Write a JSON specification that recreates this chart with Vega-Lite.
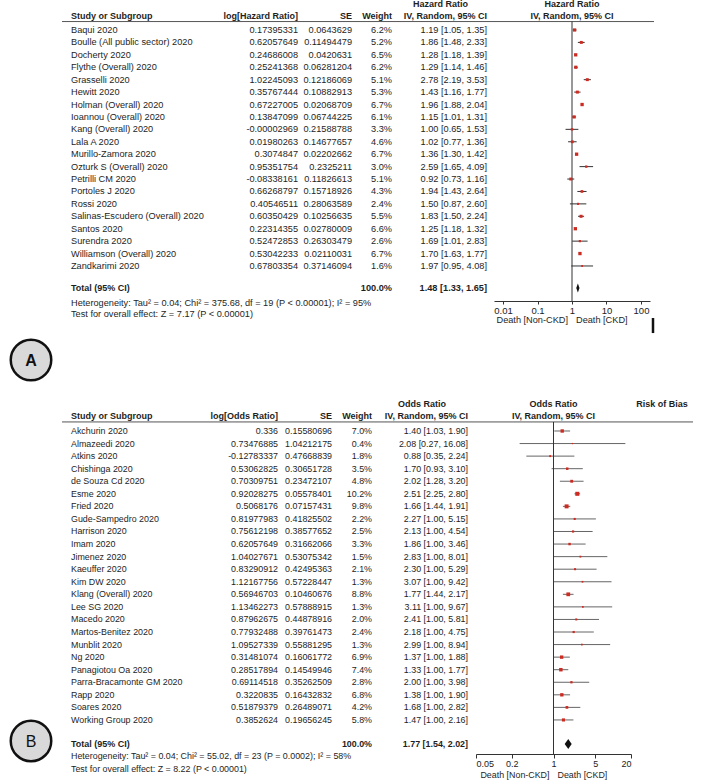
{
  "$schema": "https://vega.github.io/schema/vega-lite/v6.json",
  "padding": 0,
  "spacing": 10,
  "config": {
    "view": {"stroke": null},
    "text": {"font": "Liberation Sans", "color": "#1e1e1e"},
    "axis": {"labelFont": "Liberation Sans"}
  },
  "datasets": {
    "a": [
      {"study": "Baqui 2020", "logv": "0.17395331", "se": "0.0643629", "wt": "6.2%", "ci": "1.19 [1.05, 1.35]", "w": 6.2, "est": 1.19, "lo": 1.05, "hi": 1.35, "i": 0},
      {"study": "Boulle (All public sector) 2020", "logv": "0.62057649", "se": "0.11494479", "wt": "5.2%", "ci": "1.86 [1.48, 2.33]", "w": 5.2, "est": 1.86, "lo": 1.48, "hi": 2.33, "i": 1},
      {"study": "Docherty 2020", "logv": "0.24686008", "se": "0.0420631", "wt": "6.5%", "ci": "1.28 [1.18, 1.39]", "w": 6.5, "est": 1.28, "lo": 1.18, "hi": 1.39, "i": 2},
      {"study": "Flythe (Overall) 2020", "logv": "0.25241368", "se": "0.06281204", "wt": "6.2%", "ci": "1.29 [1.14, 1.46]", "w": 6.2, "est": 1.29, "lo": 1.14, "hi": 1.46, "i": 3},
      {"study": "Grasselli 2020", "logv": "1.02245093", "se": "0.12186069", "wt": "5.1%", "ci": "2.78 [2.19, 3.53]", "w": 5.1, "est": 2.78, "lo": 2.19, "hi": 3.53, "i": 4},
      {"study": "Hewitt 2020", "logv": "0.35767444", "se": "0.10882913", "wt": "5.3%", "ci": "1.43 [1.16, 1.77]", "w": 5.3, "est": 1.43, "lo": 1.16, "hi": 1.77, "i": 5},
      {"study": "Holman (Overall) 2020", "logv": "0.67227005", "se": "0.02068709", "wt": "6.7%", "ci": "1.96 [1.88, 2.04]", "w": 6.7, "est": 1.96, "lo": 1.88, "hi": 2.04, "i": 6},
      {"study": "Ioannou (Overall) 2020", "logv": "0.13847099", "se": "0.06744225", "wt": "6.1%", "ci": "1.15 [1.01, 1.31]", "w": 6.1, "est": 1.15, "lo": 1.01, "hi": 1.31, "i": 7},
      {"study": "Kang (Overall) 2020", "logv": "-0.00002969", "se": "0.21588788", "wt": "3.3%", "ci": "1.00 [0.65, 1.53]", "w": 3.3, "est": 1.0, "lo": 0.65, "hi": 1.53, "i": 8},
      {"study": "Lala A 2020", "logv": "0.01980263", "se": "0.14677657", "wt": "4.6%", "ci": "1.02 [0.77, 1.36]", "w": 4.6, "est": 1.02, "lo": 0.77, "hi": 1.36, "i": 9},
      {"study": "Murillo-Zamora 2020", "logv": "0.3074847", "se": "0.02202662", "wt": "6.7%", "ci": "1.36 [1.30, 1.42]", "w": 6.7, "est": 1.36, "lo": 1.3, "hi": 1.42, "i": 10},
      {"study": "Ozturk S (Overall) 2020", "logv": "0.95351754", "se": "0.2325211", "wt": "3.0%", "ci": "2.59 [1.65, 4.09]", "w": 3.0, "est": 2.59, "lo": 1.65, "hi": 4.09, "i": 11},
      {"study": "Petrilli CM 2020", "logv": "-0.08338161", "se": "0.11826613", "wt": "5.1%", "ci": "0.92 [0.73, 1.16]", "w": 5.1, "est": 0.92, "lo": 0.73, "hi": 1.16, "i": 12},
      {"study": "Portoles J 2020", "logv": "0.66268797", "se": "0.15718926", "wt": "4.3%", "ci": "1.94 [1.43, 2.64]", "w": 4.3, "est": 1.94, "lo": 1.43, "hi": 2.64, "i": 13},
      {"study": "Rossi 2020", "logv": "0.40546511", "se": "0.28063589", "wt": "2.4%", "ci": "1.50 [0.87, 2.60]", "w": 2.4, "est": 1.5, "lo": 0.87, "hi": 2.6, "i": 14},
      {"study": "Salinas-Escudero (Overall) 2020", "logv": "0.60350429", "se": "0.10256635", "wt": "5.5%", "ci": "1.83 [1.50, 2.24]", "w": 5.5, "est": 1.83, "lo": 1.5, "hi": 2.24, "i": 15},
      {"study": "Santos 2020", "logv": "0.22314355", "se": "0.02780009", "wt": "6.6%", "ci": "1.25 [1.18, 1.32]", "w": 6.6, "est": 1.25, "lo": 1.18, "hi": 1.32, "i": 16},
      {"study": "Surendra 2020", "logv": "0.52472853", "se": "0.26303479", "wt": "2.6%", "ci": "1.69 [1.01, 2.83]", "w": 2.6, "est": 1.69, "lo": 1.01, "hi": 2.83, "i": 17},
      {"study": "Williamson (Overall) 2020", "logv": "0.53042233", "se": "0.02110031", "wt": "6.7%", "ci": "1.70 [1.63, 1.77]", "w": 6.7, "est": 1.7, "lo": 1.63, "hi": 1.77, "i": 18},
      {"study": "Zandkarimi 2020", "logv": "0.67803354", "se": "0.37146094", "wt": "1.6%", "ci": "1.97 [0.95, 4.08]", "w": 1.6, "est": 1.97, "lo": 0.95, "hi": 4.08, "i": 19}
    ],
    "b": [
      {"study": "Akchurin 2020", "logv": "0.336", "se": "0.15580696", "wt": "7.0%", "ci": "1.40 [1.03, 1.90]", "w": 7.0, "est": 1.4, "lo": 1.03, "hi": 1.9, "i": 0},
      {"study": "Almazeedi 2020", "logv": "0.73476885", "se": "1.04212175", "wt": "0.4%", "ci": "2.08 [0.27, 16.08]", "w": 0.4, "est": 2.08, "lo": 0.27, "hi": 16.08, "i": 1},
      {"study": "Atkins 2020", "logv": "-0.12783337", "se": "0.47668839", "wt": "1.8%", "ci": "0.88 [0.35, 2.24]", "w": 1.8, "est": 0.88, "lo": 0.35, "hi": 2.24, "i": 2},
      {"study": "Chishinga 2020", "logv": "0.53062825", "se": "0.30651728", "wt": "3.5%", "ci": "1.70 [0.93, 3.10]", "w": 3.5, "est": 1.7, "lo": 0.93, "hi": 3.1, "i": 3},
      {"study": "de Souza Cd 2020", "logv": "0.70309751", "se": "0.23472107", "wt": "4.8%", "ci": "2.02 [1.28, 3.20]", "w": 4.8, "est": 2.02, "lo": 1.28, "hi": 3.2, "i": 4},
      {"study": "Esme 2020", "logv": "0.92028275", "se": "0.05578401", "wt": "10.2%", "ci": "2.51 [2.25, 2.80]", "w": 10.2, "est": 2.51, "lo": 2.25, "hi": 2.8, "i": 5},
      {"study": "Fried 2020", "logv": "0.5068176", "se": "0.07157431", "wt": "9.8%", "ci": "1.66 [1.44, 1.91]", "w": 9.8, "est": 1.66, "lo": 1.44, "hi": 1.91, "i": 6},
      {"study": "Gude-Sampedro 2020", "logv": "0.81977983", "se": "0.41825502", "wt": "2.2%", "ci": "2.27 [1.00, 5.15]", "w": 2.2, "est": 2.27, "lo": 1.0, "hi": 5.15, "i": 7},
      {"study": "Harrison 2020", "logv": "0.75612198", "se": "0.38577652", "wt": "2.5%", "ci": "2.13 [1.00, 4.54]", "w": 2.5, "est": 2.13, "lo": 1.0, "hi": 4.54, "i": 8},
      {"study": "Imam 2020", "logv": "0.62057649", "se": "0.31662066", "wt": "3.3%", "ci": "1.86 [1.00, 3.46]", "w": 3.3, "est": 1.86, "lo": 1.0, "hi": 3.46, "i": 9},
      {"study": "Jimenez 2020", "logv": "1.04027671", "se": "0.53075342", "wt": "1.5%", "ci": "2.83 [1.00, 8.01]", "w": 1.5, "est": 2.83, "lo": 1.0, "hi": 8.01, "i": 10},
      {"study": "Kaeuffer 2020", "logv": "0.83290912", "se": "0.42495363", "wt": "2.1%", "ci": "2.30 [1.00, 5.29]", "w": 2.1, "est": 2.3, "lo": 1.0, "hi": 5.29, "i": 11},
      {"study": "Kim DW 2020", "logv": "1.12167756", "se": "0.57228447", "wt": "1.3%", "ci": "3.07 [1.00, 9.42]", "w": 1.3, "est": 3.07, "lo": 1.0, "hi": 9.42, "i": 12},
      {"study": "Klang (Overall) 2020", "logv": "0.56946703", "se": "0.10460676", "wt": "8.8%", "ci": "1.77 [1.44, 2.17]", "w": 8.8, "est": 1.77, "lo": 1.44, "hi": 2.17, "i": 13},
      {"study": "Lee SG 2020", "logv": "1.13462273", "se": "0.57888915", "wt": "1.3%", "ci": "3.11 [1.00, 9.67]", "w": 1.3, "est": 3.11, "lo": 1.0, "hi": 9.67, "i": 14},
      {"study": "Macedo 2020", "logv": "0.87962675", "se": "0.44878916", "wt": "2.0%", "ci": "2.41 [1.00, 5.81]", "w": 2.0, "est": 2.41, "lo": 1.0, "hi": 5.81, "i": 15},
      {"study": "Martos-Benitez 2020", "logv": "0.77932488", "se": "0.39761473", "wt": "2.4%", "ci": "2.18 [1.00, 4.75]", "w": 2.4, "est": 2.18, "lo": 1.0, "hi": 4.75, "i": 16},
      {"study": "Munblit 2020", "logv": "1.09527339", "se": "0.55881295", "wt": "1.3%", "ci": "2.99 [1.00, 8.94]", "w": 1.3, "est": 2.99, "lo": 1.0, "hi": 8.94, "i": 17},
      {"study": "Ng 2020", "logv": "0.31481074", "se": "0.16061772", "wt": "6.9%", "ci": "1.37 [1.00, 1.88]", "w": 6.9, "est": 1.37, "lo": 1.0, "hi": 1.88, "i": 18},
      {"study": "Panagiotou Oa 2020", "logv": "0.28517894", "se": "0.14549946", "wt": "7.4%", "ci": "1.33 [1.00, 1.77]", "w": 7.4, "est": 1.33, "lo": 1.0, "hi": 1.77, "i": 19},
      {"study": "Parra-Bracamonte GM 2020", "logv": "0.69114518", "se": "0.35262509", "wt": "2.8%", "ci": "2.00 [1.00, 3.98]", "w": 2.8, "est": 2.0, "lo": 1.0, "hi": 3.98, "i": 20},
      {"study": "Rapp 2020", "logv": "0.3220835", "se": "0.16432832", "wt": "6.8%", "ci": "1.38 [1.00, 1.90]", "w": 6.8, "est": 1.38, "lo": 1.0, "hi": 1.9, "i": 21},
      {"study": "Soares 2020", "logv": "0.51879379", "se": "0.26489071", "wt": "4.2%", "ci": "1.68 [1.00, 2.82]", "w": 4.2, "est": 1.68, "lo": 1.0, "hi": 2.82, "i": 22},
      {"study": "Working Group 2020", "logv": "0.3852624", "se": "0.19656245", "wt": "5.8%", "ci": "1.47 [1.00, 2.16]", "w": 5.8, "est": 1.47, "lo": 1.0, "hi": 2.16, "i": 23}
    ],
    "da": [
      {"x": 1.33, "y1": 20.77, "y2": 20.77},
      {"x": 1.48, "y1": 20.41, "y2": 21.13},
      {"x": 1.65, "y1": 20.77, "y2": 20.77}
    ],
    "db": [
      {"x": 1.54, "y1": 24.91, "y2": 24.91},
      {"x": 1.77, "y1": 24.51, "y2": 25.31},
      {"x": 2.02, "y1": 24.91, "y2": 24.91}
    ],
    "one": [{}]
  },
  "vconcat": [
    {
      "spacing": 0,
      "bounds": "flush",
      "hconcat": [
        {
          "width": 62, "height": 301,
          "data": {"name": "one"},
          "encoding": {
            "x": {"datum": 0.5, "type": "quantitative", "scale": {"domain": [0, 1], "nice": false, "zero": false}, "axis": null},
            "y": {"datum": 26.57, "type": "quantitative", "scale": {"domain": [-2.415, 21.82], "reverse": true, "nice": false, "zero": false}, "axis": null}
          },
          "layer": [
            {"mark": {"type": "point", "shape": "circle", "size": 1640, "filled": true, "fill": "#d9d9d9", "stroke": "#111", "strokeWidth": 2.5, "opacity": 1}},
            {"mark": {"type": "text", "text": "A", "fontSize": 16, "fontWeight": "bold", "align": "center", "baseline": "middle", "dy": 1, "color": "#111"}}
          ]
        },
        {
          "width": 138, "height": 301,
          "layer": [
            {"data": {"name": "a"}, "mark": {"type": "text", "align": "left", "baseline": "middle", "dx": 9, "fontSize": 9.2}, "encoding": {"x": {"datum": 0, "type": "quantitative", "scale": {"domain": [0, 1], "nice": false, "zero": false}, "axis": null}, "y": {"field": "i", "type": "quantitative", "scale": {"domain": [-2.415, 21.82], "reverse": true, "nice": false, "zero": false}, "axis": null}, "text": {"field": "study"}}},
            {"data": {"name": "one"}, "mark": {"type": "text", "align": "left", "baseline": "middle", "dx": 9, "fontSize": 9, "fontWeight": "bold", "text": "Study or Subgroup"}, "encoding": {"x": {"datum": 0, "type": "quantitative"}, "y": {"datum": -1.15, "type": "quantitative"}}},
            {"data": {"name": "one"}, "mark": {"type": "rule", "color": "#555"}, "encoding": {"y": {"datum": -0.68, "type": "quantitative"}}},
            {"data": {"name": "one"}, "mark": {"type": "text", "align": "left", "baseline": "middle", "dx": 9, "fontSize": 9, "fontWeight": "bold", "text": "Total (95% CI)"}, "encoding": {"x": {"datum": 0, "type": "quantitative"}, "y": {"datum": 20.77, "type": "quantitative"}}},
            {"data": {"name": "one"}, "mark": {"type": "text", "align": "left", "baseline": "middle", "dx": 9, "fontSize": 9.2, "text": "Heterogeneity: Tau² = 0.04; Chi² = 375.68, df = 19 (P < 0.00001); I² = 95%"}, "encoding": {"x": {"datum": 0, "type": "quantitative"}, "y": {"datum": 21.98, "type": "quantitative"}}},
            {"data": {"name": "one"}, "mark": {"type": "text", "align": "left", "baseline": "middle", "dx": 9, "fontSize": 9.2, "text": "Test for overall effect: Z = 7.17 (P < 0.00001)"}, "encoding": {"x": {"datum": 0, "type": "quantitative"}, "y": {"datum": 22.87, "type": "quantitative"}}}
          ]
        },
        {
          "width": 98, "height": 301,
          "layer": [
            {"data": {"name": "a"}, "mark": {"type": "text", "align": "right", "baseline": "middle", "fontSize": 9.2}, "encoding": {"x": {"datum": 1, "type": "quantitative", "scale": {"domain": [0, 1], "nice": false, "zero": false}, "axis": null}, "y": {"field": "i", "type": "quantitative", "scale": {"domain": [-2.415, 21.82], "reverse": true, "nice": false, "zero": false}, "axis": null}, "text": {"field": "logv"}}},
            {"data": {"name": "one"}, "mark": {"type": "text", "align": "right", "baseline": "middle", "fontSize": 9, "fontWeight": "bold", "text": "log[Hazard Ratio]"}, "encoding": {"x": {"datum": 1, "type": "quantitative"}, "y": {"datum": -1.15, "type": "quantitative"}}},
            {"data": {"name": "one"}, "mark": {"type": "rule", "color": "#555"}, "encoding": {"y": {"datum": -0.68, "type": "quantitative"}}}
          ]
        },
        {
          "width": 54, "height": 301,
          "layer": [
            {"data": {"name": "a"}, "mark": {"type": "text", "align": "right", "baseline": "middle", "fontSize": 9.2}, "encoding": {"x": {"datum": 1, "type": "quantitative", "scale": {"domain": [0, 1], "nice": false, "zero": false}, "axis": null}, "y": {"field": "i", "type": "quantitative", "scale": {"domain": [-2.415, 21.82], "reverse": true, "nice": false, "zero": false}, "axis": null}, "text": {"field": "se"}}},
            {"data": {"name": "one"}, "mark": {"type": "text", "align": "right", "baseline": "middle", "fontSize": 9, "fontWeight": "bold", "text": "SE"}, "encoding": {"x": {"datum": 1, "type": "quantitative"}, "y": {"datum": -1.15, "type": "quantitative"}}},
            {"data": {"name": "one"}, "mark": {"type": "rule", "color": "#555"}, "encoding": {"y": {"datum": -0.68, "type": "quantitative"}}}
          ]
        },
        {
          "width": 40, "height": 301,
          "layer": [
            {"data": {"name": "a"}, "mark": {"type": "text", "align": "right", "baseline": "middle", "fontSize": 9.2}, "encoding": {"x": {"datum": 1, "type": "quantitative", "scale": {"domain": [0, 1], "nice": false, "zero": false}, "axis": null}, "y": {"field": "i", "type": "quantitative", "scale": {"domain": [-2.415, 21.82], "reverse": true, "nice": false, "zero": false}, "axis": null}, "text": {"field": "wt"}}},
            {"data": {"name": "one"}, "mark": {"type": "text", "align": "right", "baseline": "middle", "fontSize": 9, "fontWeight": "bold", "text": "Weight"}, "encoding": {"x": {"datum": 1, "type": "quantitative"}, "y": {"datum": -1.15, "type": "quantitative"}}},
            {"data": {"name": "one"}, "mark": {"type": "rule", "color": "#555"}, "encoding": {"y": {"datum": -0.68, "type": "quantitative"}}},
            {"data": {"name": "one"}, "mark": {"type": "text", "align": "right", "baseline": "middle", "fontSize": 9.2, "fontWeight": "bold", "text": "100.0%"}, "encoding": {"x": {"datum": 1, "type": "quantitative"}, "y": {"datum": 20.77, "type": "quantitative"}}}
          ]
        },
        {
          "width": 102, "height": 301,
          "layer": [
            {"data": {"name": "a"}, "mark": {"type": "text", "align": "right", "baseline": "middle", "dx": -7, "fontSize": 9.2}, "encoding": {"x": {"datum": 1, "type": "quantitative", "scale": {"domain": [0, 1], "nice": false, "zero": false}, "axis": null}, "y": {"field": "i", "type": "quantitative", "scale": {"domain": [-2.415, 21.82], "reverse": true, "nice": false, "zero": false}, "axis": null}, "text": {"field": "ci"}}},
            {"data": {"name": "one"}, "mark": {"type": "text", "align": "right", "baseline": "middle", "dx": -26, "fontSize": 9, "fontWeight": "bold", "text": "Hazard Ratio"}, "encoding": {"x": {"datum": 1, "type": "quantitative"}, "y": {"datum": -2.09, "type": "quantitative"}}},
            {"data": {"name": "one"}, "mark": {"type": "text", "align": "right", "baseline": "middle", "dx": -7, "fontSize": 9, "fontWeight": "bold", "text": "IV, Random, 95% CI"}, "encoding": {"x": {"datum": 1, "type": "quantitative"}, "y": {"datum": -1.15, "type": "quantitative"}}},
            {"data": {"name": "one"}, "mark": {"type": "rule", "color": "#555"}, "encoding": {"y": {"datum": -0.68, "type": "quantitative"}}},
            {"data": {"name": "one"}, "mark": {"type": "text", "align": "right", "baseline": "middle", "dx": -7, "fontSize": 9.2, "fontWeight": "bold", "text": "1.48 [1.33, 1.65]"}, "encoding": {"x": {"datum": 1, "type": "quantitative"}, "y": {"datum": 20.77, "type": "quantitative"}}}
          ]
        },
        {
          "width": 156, "height": 301,
          "layer": [
            {"data": {"name": "a"}, "mark": {"type": "rule", "color": "#333"}, "encoding": {
              "x": {"field": "lo", "type": "quantitative", "scale": {"type": "log", "domain": [0.00548, 182.4], "nice": false}, "axis": {"values": [0.01, 0.1, 1, 10, 100], "format": "~g", "title": null, "grid": false, "tickSize": 3, "labelPadding": 1, "labelFontSize": 9.5, "labelColor": "#222", "domainColor": "#333", "tickColor": "#333", "labelFlush": false}},
              "x2": {"field": "hi"},
              "y": {"field": "i", "type": "quantitative", "scale": {"domain": [-2.415, 21.82], "reverse": true, "nice": false, "zero": false}, "axis": null}}},
            {"data": {"name": "one"}, "mark": {"type": "rule", "color": "#555"}, "encoding": {"y": {"datum": -0.68, "type": "quantitative"}}},
            {"data": {"name": "one"}, "mark": {"type": "rule", "color": "#333"}, "encoding": {"x": {"datum": 1, "type": "quantitative"}, "y": {"datum": -0.68, "type": "quantitative"}, "y2": {"datum": 21.82}}},
            {"data": {"name": "a"}, "mark": {"type": "point", "shape": "square", "filled": true, "color": "#cc2b22", "opacity": 1}, "encoding": {"x": {"field": "est", "type": "quantitative"}, "y": {"field": "i", "type": "quantitative"}, "size": {"field": "w", "type": "quantitative", "scale": {"domain": [0, 10], "range": [1, 16]}, "legend": null}}},
            {"data": {"name": "da"}, "mark": {"type": "area", "orient": "vertical", "color": "#111"}, "encoding": {"x": {"field": "x", "type": "quantitative"}, "y": {"field": "y1", "type": "quantitative"}, "y2": {"field": "y2"}}},
            {"data": {"name": "one"}, "mark": {"type": "text", "align": "center", "baseline": "middle", "fontSize": 9, "fontWeight": "bold", "text": "Hazard Ratio"}, "encoding": {"x": {"datum": 1, "type": "quantitative"}, "y": {"datum": -2.09, "type": "quantitative"}}},
            {"data": {"name": "one"}, "mark": {"type": "text", "align": "center", "baseline": "middle", "fontSize": 9, "fontWeight": "bold", "text": "IV, Random, 95% CI"}, "encoding": {"x": {"datum": 1, "type": "quantitative"}, "y": {"datum": -1.15, "type": "quantitative"}}},
            {"data": {"name": "one"}, "mark": {"type": "text", "align": "right", "baseline": "middle", "dx": -4, "fontSize": 9.2, "text": "Death [Non-CKD]"}, "encoding": {"x": {"datum": 1, "type": "quantitative"}, "y": {"datum": 23.35, "type": "quantitative"}}},
            {"data": {"name": "one"}, "mark": {"type": "text", "align": "left", "baseline": "middle", "dx": 4, "fontSize": 9.2, "text": "Death [CKD]"}, "encoding": {"x": {"datum": 1, "type": "quantitative"}, "y": {"datum": 23.35, "type": "quantitative"}}}
          ]
        },
        {
          "width": 4, "height": 301,
          "data": {"name": "one"},
          "layer": [
            {"mark": {"type": "rule", "color": "#555"}, "encoding": {"y": {"datum": -0.68, "type": "quantitative", "scale": {"domain": [-2.415, 21.82], "reverse": true, "nice": false, "zero": false}, "axis": null}}},
            {"mark": {"type": "rule", "color": "#111", "strokeWidth": 2.5}, "encoding": {"x": {"datum": 0.75, "type": "quantitative", "scale": {"domain": [0, 1], "nice": false, "zero": false}, "axis": null}, "y": {"datum": 23.19, "type": "quantitative"}, "y2": {"datum": 24.4}}}
          ]
        }
      ]
    },
    {
      "spacing": 0,
      "bounds": "flush",
      "hconcat": [
        {
          "width": 62, "height": 358,
          "data": {"name": "one"},
          "encoding": {
            "x": {"datum": 0.5, "type": "quantitative", "scale": {"domain": [0, 1], "nice": false, "zero": false}, "axis": null},
            "y": {"datum": 24.67, "type": "quantitative", "scale": {"domain": [-2.785, 25.71], "reverse": true, "nice": false, "zero": false}, "axis": null}
          },
          "layer": [
            {"mark": {"type": "point", "shape": "circle", "size": 1640, "filled": true, "fill": "#d9d9d9", "stroke": "#111", "strokeWidth": 2.5, "opacity": 1}},
            {"mark": {"type": "text", "text": "B", "fontSize": 16, "fontWeight": "normal", "align": "center", "baseline": "middle", "dy": 1, "color": "#111"}}
          ]
        },
        {
          "width": 138, "height": 358,
          "layer": [
            {"data": {"name": "b"}, "mark": {"type": "text", "align": "left", "baseline": "middle", "dx": 9, "fontSize": 8.9}, "encoding": {"x": {"datum": 0, "type": "quantitative", "scale": {"domain": [0, 1], "nice": false, "zero": false}, "axis": null}, "y": {"field": "i", "type": "quantitative", "scale": {"domain": [-2.785, 25.71], "reverse": true, "nice": false, "zero": false}, "axis": null}, "text": {"field": "study"}}},
            {"data": {"name": "one"}, "mark": {"type": "text", "align": "left", "baseline": "middle", "dx": 9, "fontSize": 9, "fontWeight": "bold", "text": "Study or Subgroup"}, "encoding": {"x": {"datum": 0, "type": "quantitative"}, "y": {"datum": -1.19, "type": "quantitative"}}},
            {"data": {"name": "one"}, "mark": {"type": "rule", "color": "#555"}, "encoding": {"y": {"datum": -0.72, "type": "quantitative"}}},
            {"data": {"name": "one"}, "mark": {"type": "text", "align": "left", "baseline": "middle", "dx": 9, "fontSize": 9, "fontWeight": "bold", "text": "Total (95% CI)"}, "encoding": {"x": {"datum": 0, "type": "quantitative"}, "y": {"datum": 24.91, "type": "quantitative"}}},
            {"data": {"name": "one"}, "mark": {"type": "text", "align": "left", "baseline": "middle", "dx": 9, "fontSize": 8.9, "text": "Heterogeneity: Tau² = 0.04; Chi² = 55.02, df = 23 (P = 0.0002); I² = 58%"}, "encoding": {"x": {"datum": 0, "type": "quantitative"}, "y": {"datum": 25.87, "type": "quantitative"}}},
            {"data": {"name": "one"}, "mark": {"type": "text", "align": "left", "baseline": "middle", "dx": 9, "fontSize": 8.9, "text": "Test for overall effect: Z = 8.22 (P < 0.00001)"}, "encoding": {"x": {"datum": 0, "type": "quantitative"}, "y": {"datum": 26.9, "type": "quantitative"}}}
          ]
        },
        {
          "width": 78, "height": 358,
          "layer": [
            {"data": {"name": "b"}, "mark": {"type": "text", "align": "right", "baseline": "middle", "fontSize": 8.9}, "encoding": {"x": {"datum": 1, "type": "quantitative", "scale": {"domain": [0, 1], "nice": false, "zero": false}, "axis": null}, "y": {"field": "i", "type": "quantitative", "scale": {"domain": [-2.785, 25.71], "reverse": true, "nice": false, "zero": false}, "axis": null}, "text": {"field": "logv"}}},
            {"data": {"name": "one"}, "mark": {"type": "text", "align": "right", "baseline": "middle", "fontSize": 9, "fontWeight": "bold", "text": "log[Odds Ratio]"}, "encoding": {"x": {"datum": 1, "type": "quantitative"}, "y": {"datum": -1.19, "type": "quantitative"}}},
            {"data": {"name": "one"}, "mark": {"type": "rule", "color": "#555"}, "encoding": {"y": {"datum": -0.72, "type": "quantitative"}}}
          ]
        },
        {
          "width": 54, "height": 358,
          "layer": [
            {"data": {"name": "b"}, "mark": {"type": "text", "align": "right", "baseline": "middle", "fontSize": 8.9}, "encoding": {"x": {"datum": 1, "type": "quantitative", "scale": {"domain": [0, 1], "nice": false, "zero": false}, "axis": null}, "y": {"field": "i", "type": "quantitative", "scale": {"domain": [-2.785, 25.71], "reverse": true, "nice": false, "zero": false}, "axis": null}, "text": {"field": "se"}}},
            {"data": {"name": "one"}, "mark": {"type": "text", "align": "right", "baseline": "middle", "fontSize": 9, "fontWeight": "bold", "text": "SE"}, "encoding": {"x": {"datum": 1, "type": "quantitative"}, "y": {"datum": -1.19, "type": "quantitative"}}},
            {"data": {"name": "one"}, "mark": {"type": "rule", "color": "#555"}, "encoding": {"y": {"datum": -0.72, "type": "quantitative"}}}
          ]
        },
        {
          "width": 40, "height": 358,
          "layer": [
            {"data": {"name": "b"}, "mark": {"type": "text", "align": "right", "baseline": "middle", "fontSize": 8.9}, "encoding": {"x": {"datum": 1, "type": "quantitative", "scale": {"domain": [0, 1], "nice": false, "zero": false}, "axis": null}, "y": {"field": "i", "type": "quantitative", "scale": {"domain": [-2.785, 25.71], "reverse": true, "nice": false, "zero": false}, "axis": null}, "text": {"field": "wt"}}},
            {"data": {"name": "one"}, "mark": {"type": "text", "align": "right", "baseline": "middle", "fontSize": 9, "fontWeight": "bold", "text": "Weight"}, "encoding": {"x": {"datum": 1, "type": "quantitative"}, "y": {"datum": -1.19, "type": "quantitative"}}},
            {"data": {"name": "one"}, "mark": {"type": "rule", "color": "#555"}, "encoding": {"y": {"datum": -0.72, "type": "quantitative"}}},
            {"data": {"name": "one"}, "mark": {"type": "text", "align": "right", "baseline": "middle", "fontSize": 8.9, "fontWeight": "bold", "text": "100.0%"}, "encoding": {"x": {"datum": 1, "type": "quantitative"}, "y": {"datum": 24.91, "type": "quantitative"}}}
          ]
        },
        {
          "width": 104, "height": 358,
          "layer": [
            {"data": {"name": "b"}, "mark": {"type": "text", "align": "right", "baseline": "middle", "dx": -8, "fontSize": 8.9}, "encoding": {"x": {"datum": 1, "type": "quantitative", "scale": {"domain": [0, 1], "nice": false, "zero": false}, "axis": null}, "y": {"field": "i", "type": "quantitative", "scale": {"domain": [-2.785, 25.71], "reverse": true, "nice": false, "zero": false}, "axis": null}, "text": {"field": "ci"}}},
            {"data": {"name": "one"}, "mark": {"type": "text", "align": "right", "baseline": "middle", "dx": -30, "fontSize": 9, "fontWeight": "bold", "text": "Odds Ratio"}, "encoding": {"x": {"datum": 1, "type": "quantitative"}, "y": {"datum": -2.15, "type": "quantitative"}}},
            {"data": {"name": "one"}, "mark": {"type": "text", "align": "right", "baseline": "middle", "dx": -8, "fontSize": 9, "fontWeight": "bold", "text": "IV, Random, 95% CI"}, "encoding": {"x": {"datum": 1, "type": "quantitative"}, "y": {"datum": -1.19, "type": "quantitative"}}},
            {"data": {"name": "one"}, "mark": {"type": "rule", "color": "#555"}, "encoding": {"y": {"datum": -0.72, "type": "quantitative"}}},
            {"data": {"name": "one"}, "mark": {"type": "text", "align": "right", "baseline": "middle", "dx": -8, "fontSize": 8.9, "fontWeight": "bold", "text": "1.77 [1.54, 2.02]"}, "encoding": {"x": {"datum": 1, "type": "quantitative"}, "y": {"datum": 24.91, "type": "quantitative"}}}
          ]
        },
        {
          "width": 155, "height": 358,
          "layer": [
            {"data": {"name": "b"}, "mark": {"type": "rule", "color": "#666"}, "encoding": {
              "x": {"field": "lo", "type": "quantitative", "scale": {"type": "log", "domain": [0.05, 20], "nice": false}, "axis": {"values": [0.05, 0.2, 1, 5, 20], "format": "~g", "title": null, "grid": false, "tickSize": 4, "labelPadding": 1.5, "labelFontSize": 9, "labelColor": "#222", "domainColor": "#333", "tickColor": "#333", "labelFlush": true}},
              "x2": {"field": "hi"},
              "y": {"field": "i", "type": "quantitative", "scale": {"domain": [-2.785, 25.71], "reverse": true, "nice": false, "zero": false}, "axis": null}}},
            {"data": {"name": "one"}, "mark": {"type": "rule", "color": "#555"}, "encoding": {"y": {"datum": -0.72, "type": "quantitative"}}},
            {"data": {"name": "one"}, "mark": {"type": "rule", "color": "#333"}, "encoding": {"x": {"datum": 1, "type": "quantitative"}, "y": {"datum": -0.72, "type": "quantitative"}, "y2": {"datum": 25.71}}},
            {"data": {"name": "b"}, "mark": {"type": "point", "shape": "square", "filled": true, "color": "#cc2b22", "opacity": 1}, "encoding": {"x": {"field": "est", "type": "quantitative"}, "y": {"field": "i", "type": "quantitative"}, "size": {"field": "w", "type": "quantitative", "scale": {"domain": [0, 10], "range": [1, 16]}, "legend": null}}},
            {"data": {"name": "db"}, "mark": {"type": "area", "orient": "vertical", "color": "#111"}, "encoding": {"x": {"field": "x", "type": "quantitative"}, "y": {"field": "y1", "type": "quantitative"}, "y2": {"field": "y2"}}},
            {"data": {"name": "one"}, "mark": {"type": "text", "align": "center", "baseline": "middle", "fontSize": 9, "fontWeight": "bold", "text": "Odds Ratio"}, "encoding": {"x": {"datum": 1, "type": "quantitative"}, "y": {"datum": -2.15, "type": "quantitative"}}},
            {"data": {"name": "one"}, "mark": {"type": "text", "align": "center", "baseline": "middle", "fontSize": 9, "fontWeight": "bold", "text": "IV, Random, 95% CI"}, "encoding": {"x": {"datum": 1, "type": "quantitative"}, "y": {"datum": -1.19, "type": "quantitative"}}},
            {"data": {"name": "one"}, "mark": {"type": "text", "align": "right", "baseline": "middle", "dx": -4, "fontSize": 8.9, "text": "Death [Non-CKD]"}, "encoding": {"x": {"datum": 1, "type": "quantitative"}, "y": {"datum": 27.38, "type": "quantitative"}}},
            {"data": {"name": "one"}, "mark": {"type": "text", "align": "left", "baseline": "middle", "dx": 4, "fontSize": 8.9, "text": "Death [CKD]"}, "encoding": {"x": {"datum": 1, "type": "quantitative"}, "y": {"datum": 27.38, "type": "quantitative"}}}
          ]
        },
        {
          "width": 62, "height": 358,
          "data": {"name": "one"},
          "layer": [
            {"mark": {"type": "rule", "color": "#555"}, "encoding": {"y": {"datum": -0.72, "type": "quantitative", "scale": {"domain": [-2.785, 25.71], "reverse": true, "nice": false, "zero": false}, "axis": null}}},
            {"mark": {"type": "text", "align": "center", "baseline": "middle", "fontSize": 9, "fontWeight": "bold", "text": "Risk of Bias"}, "encoding": {"x": {"datum": 0.5, "type": "quantitative", "scale": {"domain": [0, 1], "nice": false, "zero": false}, "axis": null}, "y": {"datum": -2.15, "type": "quantitative"}}}
          ]
        }
      ]
    }
  ]
}
